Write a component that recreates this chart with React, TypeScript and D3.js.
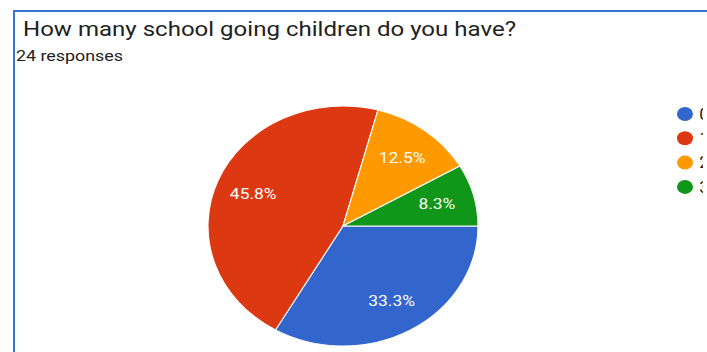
import React from "react";
import * as d3 from "d3";

const categories = ["0", "1", "2", "3"];
const counts = [8, 11, 3, 2];
const colors = ["#3366cc", "#dc3912", "#ff9900", "#109618"];
const titleText = "How many school going children do you have?";
const subtitleText = "24 responses";

const W = 707;
const H = 352;

export default function App() {
  const total = d3.sum(counts);
  const pie = d3
    .pie<number>()
    .sort(null)
    .value((d) => d)
    .startAngle(Math.PI / 2)
    .endAngle(Math.PI / 2 + 2 * Math.PI);
  const arcs = pie(counts);
  const r = 120;
  const arc = d3.arc<d3.PieArcDatum<number>>().innerRadius(0).outerRadius(r);
  const labelArc = d3
    .arc<d3.PieArcDatum<number>>()
    .innerRadius(r * 0.72)
    .outerRadius(r * 0.72);
  const fmt = d3.format(".1%");
  const sx = 1.125;
  const cx = 343;
  const cy = 226;

  return (
    <svg
      width={W}
      height={H}
      style={{ position: "absolute", left: 0, top: 0, background: "#fff" }}
      fontFamily="Roboto, Arial, sans-serif"
    >
      <defs>
        <clipPath id="edge">
          <rect x={0} y={0} width={703} height={H} />
        </clipPath>
      </defs>
      <rect x={0} y={0} width={W} height={H} fill="#fff" />
      <line x1={14} y1={11} x2={W} y2={11} stroke="#3a74d4" strokeWidth={2} />
      <line x1={14} y1={10} x2={14} y2={H} stroke="#3a74d4" strokeWidth={2} />
      <text
        x={23}
        y={36}
        fontSize={21}
        fill="#212121"
        textLength={493}
        lengthAdjust="spacingAndGlyphs"
      >
        {titleText}
      </text>
      <text
        x={16}
        y={61}
        fontSize={15}
        fill="#212121"
        textLength={107}
        lengthAdjust="spacingAndGlyphs"
      >
        {subtitleText}
      </text>
      <g transform={`translate(${cx},${cy}) scale(${sx},1)`}>
        {arcs.map((a, i) => (
          <path
            key={categories[i]}
            d={arc(a) || ""}
            fill={colors[i]}
            stroke="#fff"
            strokeWidth={1}
          />
        ))}
        {arcs.map((a, i) => {
          const [x, y] = labelArc.centroid(a);
          return (
            <text
              key={"l" + categories[i]}
              x={x}
              y={y}
              dy="0.36em"
              textAnchor="middle"
              fontSize={15.5}
              fill="#fff"
            >
              {fmt(a.value / total)}
            </text>
          );
        })}
      </g>
      <g clipPath="url(#edge)">
        {categories.map((c, i) => (
          <g key={"lg" + c} transform={`translate(685,${114 + i * 24.3})`}>
            <ellipse rx={8} ry={7} fill={colors[i]} />
            <text
              x={13}
              y={0}
              dy="0.36em"
              fontSize={16}
              fill="#222"
              transform={`scale(1.1,1)`}
            >
              {c}
            </text>
          </g>
        ))}
      </g>
    </svg>
  );
}
